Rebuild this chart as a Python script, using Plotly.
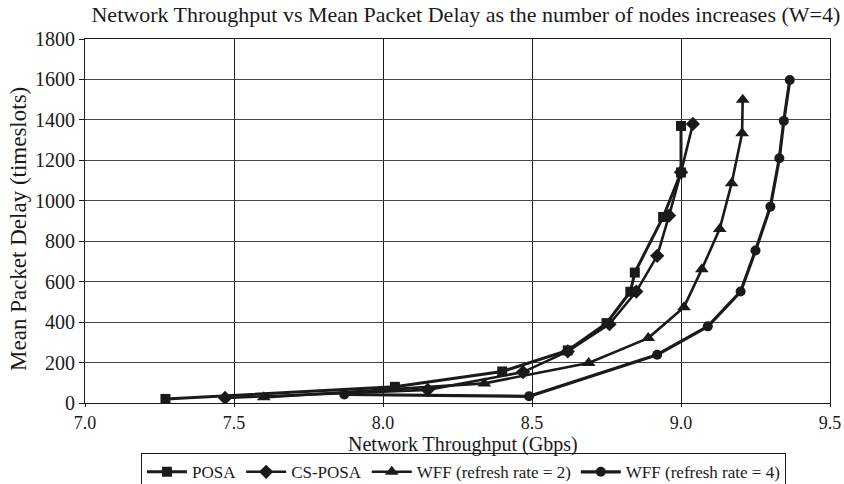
import plotly.graph_objects as go

# Throughput (Gbps) and mean packet delay (timeslots) per scheme, one point per node count
posa_x = [7.27, 8.04, 8.40, 8.62, 8.75, 8.83, 8.845, 8.94, 9.00, 9.00]
posa_y = [20, 80, 156, 260, 395, 550, 645, 920, 1140, 1370]

cspos_x = [7.47, 8.15, 8.47, 8.62, 8.76, 8.85, 8.92, 8.96, 9.00, 9.04]
cspos_y = [25, 65, 153, 255, 390, 551, 728, 927, 1141, 1380]

wff2_x = [7.60, 8.34, 8.69, 8.89, 9.01, 9.07, 9.13, 9.17, 9.205, 9.207]
wff2_y = [28, 97, 198, 321, 474, 662, 861, 1087, 1334, 1499]

wff4_x = [7.87, 8.49, 8.92, 9.09, 9.20, 9.25, 9.30, 9.33, 9.345, 9.365]
wff4_y = [42, 33, 239, 379, 551, 754, 971, 1210, 1395, 1597]

series = [
    ("POSA", posa_x, posa_y, "square", 10, 3),
    ("CS-POSA", cspos_x, cspos_y, "diamond", 11, 2.6),
    ("WFF (refresh rate = 2)", wff2_x, wff2_y, "triangle-up", 12, 2.6),
    ("WFF (refresh rate = 4)", wff4_x, wff4_y, "circle", 10, 3.2),
]

FONT = "Liberation Serif, Times New Roman, serif"
INK = "#1a1a1a"

fig = go.Figure()
for name, xs, ys, sym, msize, lw in series:
    fig.add_trace(go.Scatter(
        x=xs, y=ys, name=name, mode="lines+markers",
        line=dict(color=INK, width=lw),
        marker=dict(symbol=sym, size=msize, color=INK),
    ))

fig.update_layout(
    width=844, height=484,
    margin=dict(l=85, r=14, t=39, b=81, autoexpand=False),
    paper_bgcolor="white", plot_bgcolor="white",
    font=dict(family=FONT, size=18, color=INK),
    title=dict(
        text="Network Throughput vs Mean Packet Delay as the number of nodes increases (W=4)",
        x=0.552, xanchor="center", y=0.971, yanchor="middle",
        font=dict(family=FONT, size=22, color=INK),
    ),
    showlegend=True,
    legend=dict(
        orientation="h", x=0.508, xanchor="center", y=-0.138, yanchor="top",
        bordercolor=INK, borderwidth=1,
        font=dict(family=FONT, size=17, color=INK),
        itemwidth=40, tracegroupgap=0,
    ),
    annotations=[
        dict(text="Network Throughput (Gbps)", xref="paper", yref="paper",
             x=0.508, y=-0.115, xanchor="center", yanchor="middle",
             showarrow=False, font=dict(family=FONT, size=20, color=INK)),
        dict(text="Mean Packet Delay (timeslots)", xref="paper", yref="paper",
             x=-0.09, y=0.478, xanchor="center", yanchor="middle", textangle=-90,
             showarrow=False, font=dict(family=FONT, size=23, color=INK)),
    ],
)

fig.update_xaxes(
    range=[7.0, 9.5], dtick=0.5, tickformat=".1f",
    showgrid=True, gridcolor=INK, gridwidth=1,
    showline=True, linecolor=INK, linewidth=1, mirror=True,
    ticks="outside", ticklen=3, tickcolor=INK,
    zeroline=False,
    tickfont=dict(family=FONT, size=18),
)
fig.update_yaxes(
    range=[0, 1800], dtick=200,
    showgrid=True, gridcolor="#444444", gridwidth=1,
    showline=True, linecolor=INK, linewidth=1, mirror=True,
    ticks="outside", ticklen=5, tickcolor=INK,
    zeroline=False,
    tickfont=dict(family=FONT, size=20),
)

fig.write_html("out.html")
